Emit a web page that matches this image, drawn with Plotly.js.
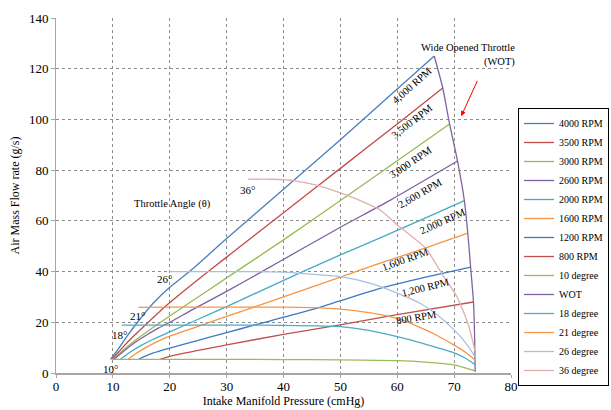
<!DOCTYPE html>
<html>
<head>
<meta charset="utf-8">
<script src="https://cdn.plot.ly/plotly-3.0.1.min.js"></script>
<style>html,body{margin:0;padding:0;background:#fff;}#chart{width:611px;height:410px;}</style>
</head>
<body>
<div id="chart"></div>
<script>
// ---- RPM lines (x: intake manifold pressure cmHg, y: air mass flow g/s) ----
const rpm4000X = [9.6, 11, 12.5, 14.5, 17, 20, 24, 30, 40, 50, 60, 66.5];
const rpm4000Y = [5.4, 9.6, 14.5, 20.5, 27.3, 33.8, 41, 53, 72.5, 92, 112, 125];
const rpm3500X = [9.8, 11, 12.7, 15.7, 19.5, 24.5, 30, 40, 50, 60, 68];
const rpm3500Y = [5.4, 8.3, 12.4, 18.9, 26.8, 36, 45.7, 63.2, 80.7, 98.2, 112.4];
const rpm3000X = [10, 12, 14, 16, 20, 24, 30, 40, 50, 57, 69.2];
const rpm3000Y = [5.4, 9.4, 13, 16.3, 22.5, 28.5, 37.5, 52.5, 68, 79, 98.2];
const rpm2600X = [10.2, 12, 14, 16, 18, 20, 24, 30, 36.2, 42.9, 50, 58.8, 70.6];
const rpm2600Y = [5.4, 8.8, 12.2, 15.1, 17.7, 20, 25, 32.2, 40, 48.5, 57.5, 68.2, 83.6];
const rpm2000X = [11.3, 13, 15, 17, 20, 25, 30, 42.9, 50, 57, 65, 71.8];
const rpm2000Y = [5.4, 8.2, 10.9, 13.2, 16.2, 21.2, 26.2, 39.5, 46.6, 53.3, 61.2, 68];
const rpm1600X = [12.7, 14, 16, 18, 20, 24, 30, 40, 50, 57, 65, 72.4];
const rpm1600Y = [5.4, 7.6, 10.3, 12.6, 14.5, 17.6, 22.3, 30, 37.8, 43.3, 49.3, 55.2];
const rpm1200X = [14.5, 17, 20, 25, 30, 35, 40, 45, 50, 57, 65, 72.9];
const rpm1200Y = [5.4, 7.8, 9.8, 12.9, 15.9, 19, 22, 25, 28.5, 33.4, 37.8, 41.8];
const rpm800X = [18.3, 20, 25, 30, 40, 50, 60, 73.4];
const rpm800Y = [5.4, 6.6, 8.9, 11.1, 15.2, 19, 23, 28];

// ---- Throttle angle curves ----
const deg10X = [10, 20, 30, 40, 50, 60, 65, 70, 73.7];
const deg10Y = [5.4, 5.4, 5.4, 5.3, 5.2, 4.9, 4.3, 3.2, 0.8];
const wotX = [66.5, 68, 69.2, 70.6, 71.8, 72.4, 72.9, 73.4, 73.6, 73.7];
const wotY = [125, 112.4, 98.2, 83.6, 68, 55.2, 41.8, 28, 15, 0.5];
const deg18X = [11.6, 20, 30, 40, 45, 50, 55, 60, 64, 67, 70, 72, 73.7];
const deg18Y = [18.9, 18.9, 18.9, 18.8, 18.6, 18.3, 16.8, 14.3, 12, 10, 7.9, 5.8, 3.3];
const deg21X = [14.5, 20, 30, 40, 45, 50, 55, 60, 64, 67, 70, 72, 73.7];
const deg21Y = [25.9, 26, 26, 26, 25.8, 25.2, 23.8, 21.5, 18, 14.8, 11, 8.2, 5.1];
const deg26X = [20, 30, 40, 43, 50, 55, 60, 64, 67, 70, 72, 73.7];
const deg26Y = [40, 40, 39.8, 39.3, 38, 35.5, 31.5, 27.5, 23, 17, 12, 6.4];
const deg36X = [33.8, 38, 42, 46, 50, 54, 57, 60, 65, 68, 70.5, 72.5, 73.7];
const deg36Y = [76.4, 76.4, 75.8, 74, 71, 67.5, 64.3, 58.4, 49.2, 38.6, 30.1, 19, 8.4];

// ---- Labels ----
const seriesNames = ["4000 RPM","3500 RPM","3000 RPM","2600 RPM","2000 RPM","1600 RPM","1200 RPM","800 RPM","10 degree","WOT","18 degree","21 degree","26 degree","36 degree"];
const rpmLabels = ["4,000 RPM","3,500 RPM","3,000 RPM","2,600 RPM","2,000 RPM","1,600 RPM","1,200 RPM","800 RPM"];
const degLabels = ["10°","18°","21°","26°","36°"];
const xTickVals = [0,10,20,30,40,50,60,70,80];
const yTickVals = [0,20,40,60,80,100,120,140];

const xs = [rpm4000X,rpm3500X,rpm3000X,rpm2600X,rpm2000X,rpm1600X,rpm1200X,rpm800X,deg10X,wotX,deg18X,deg21X,deg26X,deg36X];
const ys = [rpm4000Y,rpm3500Y,rpm3000Y,rpm2600Y,rpm2000Y,rpm1600Y,rpm1200Y,rpm800Y,deg10Y,wotY,deg18Y,deg21Y,deg26Y,deg36Y];
const colors = ["#4A7EBB","#BE4B48","#98B954","#7D60A0","#46AAC5","#F69544","#3F78C2","#C0504D","#9BBB59","#8064A2","#4BACC6","#F79646","#A9C0DE","#E2AEAD"];

const traces = xs.map((x,i)=>({
  x: x, y: ys[i], name: seriesNames[i], type:'scatter', mode:'lines',
  line:{color:colors[i], width:1.3, shape:'spline', smoothing:0.6},
  hoverinfo:'skip'
}));

const serif = "Liberation Serif, Times New Roman, serif";
const rpmLabelPos = [[62.6,113.2,-41.7],[62.6,99,-38],[62.3,83.2,-33.8],[64.0,70.6,-30],[67.9,59.9,-24],[61.4,44.6,-19.6],[64.9,33.9,-13.8],[63.3,21.7,-9.4]];
const degLabelPos = [[9.5,1.6],[11.1,15],[14.3,22.5],[19,37.1],[33.6,72.2]];

const annotations = [];
rpmLabels.forEach((t,i)=>annotations.push({x:rpmLabelPos[i][0], y:rpmLabelPos[i][1], text:t, showarrow:false, textangle:rpmLabelPos[i][2], font:{family:serif,size:10.5,color:'#000'}}));
degLabels.forEach((t,i)=>annotations.push({x:degLabelPos[i][0], y:degLabelPos[i][1], text:t, showarrow:false, font:{family:serif,size:11,color:'#000'}}));
annotations.push({x:20.4, y:66.6, text:'Throttle Angle (θ)', showarrow:false, font:{family:serif,size:10.5,color:'#000'}});
annotations.push({xref:'paper', yref:'paper', x:(517-56)/455, y:(373-55.5)/355, xanchor:'right', yanchor:'middle', align:'right', text:'Wide Opened Throttle<br>(WOT)', showarrow:false, font:{family:serif,size:10.5,color:'#000'}});
annotations.push({x:71.25, y:101.3, ax:74.2, ay:115.8, axref:'x', ayref:'y', text:'', showarrow:true, arrowhead:2, arrowsize:1, arrowwidth:1, arrowcolor:'#FF0000'});

const layout = {
  width:611, height:410,
  margin:{l:56, r:100, t:18, b:37},
  paper_bgcolor:'#fff', plot_bgcolor:'#fff',
  showlegend:true,
  legend:{xref:'container', yref:'container', x:609/611, y:1-108/410, xanchor:'right', yanchor:'top', bordercolor:'#000', borderwidth:1, bgcolor:'#fff',
    maxheight:300,
    font:{family:serif, size:10, color:'#000'}, tracegroupgap:0, itemwidth:30},
  xaxis:{range:[0,80], tickvals:xTickVals, showgrid:true, gridcolor:'#8c8c8c', griddash:'dot', gridwidth:1,
    zeroline:false, showline:true, linecolor:'#a6a6a6', linewidth:2, ticks:'outside', ticklen:3, tickcolor:'#a6a6a6',
    ticklabelstandoff:-3,
    tickfont:{family:serif, size:13, color:'#000'},
    title:{text:'Intake Manifold Pressure (cmHg)', font:{family:serif, size:12, color:'#000'}, standoff:2}},
  yaxis:{range:[0,140], tickvals:yTickVals, showgrid:true, gridcolor:'#8c8c8c', griddash:'dot', gridwidth:1,
    zeroline:false, showline:true, linecolor:'#a6a6a6', linewidth:1, ticks:'outside', ticklen:4, tickcolor:'#a6a6a6',
    tickfont:{family:serif, size:13, color:'#000'},
    title:{text:'Air Mass Flow rate (g/s)', font:{family:serif, size:12, color:'#000'}, standoff:6}},
  annotations: annotations
};

Plotly.newPlot('chart', traces, layout, {displayModeBar:false, staticPlot:true});
</script>
</body>
</html>
